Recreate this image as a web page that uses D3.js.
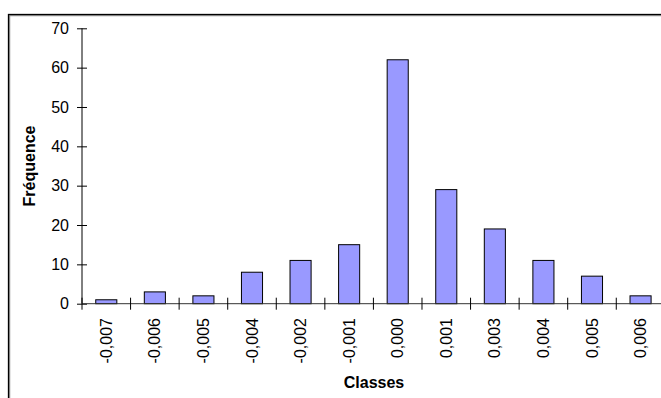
<!DOCTYPE html>
<html><head><meta charset="utf-8">
<script src="https://cdn.jsdelivr.net/npm/d3@7"></script>
<style>body{margin:0;background:#fff}svg{display:block}text{font-family:Arial,"Liberation Sans",sans-serif}</style>
</head><body>
<svg id="c" width="661" height="398"></svg>
<script>
const categories = ["-0,007","-0,006","-0,005","-0,004","-0,002","-0,001","0,000","0,001","0,003","0,004","0,005","0,006"];
const frequencies = [1,3,2,8,11,15,62,29,19,11,7,2];
const yTicks = [0,10,20,30,40,50,60,70];
const xTitle = "Classes";
const yTitle = "Fréquence";

const svg = d3.select("#c");
const x0 = 82, x1 = 82 + 12*48.57, y0 = 303.7, y1 = 28.3;

// outer frame (cropped chart area)
svg.append("rect").attr("x",9.5).attr("y",15.5).attr("width",700).attr("height",450)
  .attr("fill","none").attr("stroke","#999").attr("stroke-width",1.5);
svg.append("rect").attr("x",8.5).attr("y",14.5).attr("width",700).attr("height",450)
  .attr("fill","none").attr("stroke","#000").attr("stroke-width",1.3);

const y = d3.scaleLinear().domain([0,70]).range([y0,y1]);
const xb = d3.scaleBand().domain(categories).range([x0,x1]).paddingInner(0.566).paddingOuter(0.283);
const xCat = d3.scaleBand().domain(categories).range([x0,x1]).padding(0);

// bars
svg.append("g").selectAll("rect").data(frequencies).join("rect")
  .attr("x",(d,i)=>xb(categories[i]))
  .attr("y",d=>y(d))
  .attr("width",xb.bandwidth())
  .attr("height",d=>y(0)-y(d))
  .attr("fill","#9999ff").attr("stroke","#000").attr("stroke-width",1);

// y axis
const yAxis = d3.axisLeft(y).tickValues(yTicks).tickSize(5).tickFormat(d3.format("d"));
const gy = svg.append("g").attr("transform",`translate(${x0},0)`).call(yAxis);
gy.select(".domain").remove();
gy.append("line").attr("x1",0).attr("x2",0).attr("y1",y1).attr("y2",y0).attr("stroke","#000");
gy.selectAll(".tick line").attr("x1",-5).attr("x2",5).attr("stroke","#000");
gy.selectAll(".tick text").attr("x",-13).attr("font-size",16).attr("fill","#000")
  .attr("font-family","Arial, 'Liberation Sans', sans-serif");

// x axis line
svg.append("line").attr("x1",x0).attr("x2",x1).attr("y1",y0).attr("y2",y0).attr("stroke","#333");
// x ticks at category boundaries
const bounds = categories.map(c=>xCat(c));
svg.append("g").selectAll("line").data(bounds).join("line")
  .attr("x1",d=>d).attr("x2",d=>d).attr("y1",y0-6).attr("y2",y0+6).attr("stroke","#000");
// x labels
svg.append("g").selectAll("text").data(categories).join("text")
  .attr("transform",d=>`translate(${xCat(d)+xCat.bandwidth()/2},318) rotate(-90)`)
  .attr("text-anchor","end").attr("dy","0.35em").attr("font-size",16).attr("fill","#000")
  .text(d=>d);

// titles
svg.append("text").attr("x",374).attr("y",388).attr("text-anchor","middle")
  .attr("font-size",16).attr("font-weight","bold").text(xTitle);
svg.append("text").attr("transform","translate(34.5,166) rotate(-90)").attr("text-anchor","middle")
  .attr("font-size",16).attr("font-weight","bold").text(yTitle);
</script>
</body></html>
